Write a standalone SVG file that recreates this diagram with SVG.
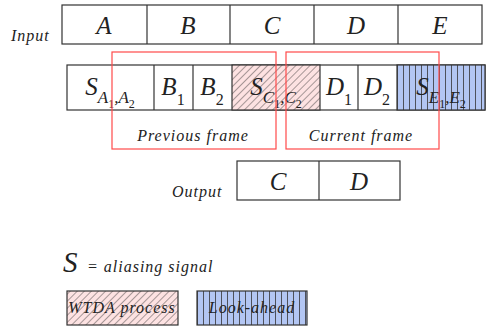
<svg xmlns="http://www.w3.org/2000/svg" width="491" height="329" viewBox="0 0 491 329">
<defs>
<pattern id="diag" patternUnits="userSpaceOnUse" width="5" height="5" patternTransform="rotate(45)">
<rect width="5" height="5" fill="#fde2e2"/>
<line x1="0" y1="0" x2="0" y2="5" stroke="#222" stroke-width="0.8"/>
</pattern>
<pattern id="vert" patternUnits="userSpaceOnUse" width="6" height="10" x="397">
<rect width="6" height="10" fill="#b3c6f3"/>
<line x1="0.5" y1="0" x2="0.5" y2="10" stroke="#333" stroke-width="0.8"/>
</pattern>
<pattern id="vert2" patternUnits="userSpaceOnUse" width="6" height="10" x="197">
<rect width="6" height="10" fill="#b3c6f3"/>
<line x1="0.5" y1="0" x2="0.5" y2="10" stroke="#333" stroke-width="0.8"/>
</pattern>
</defs>
<style>
.box{fill:#fff;stroke:#333;stroke-width:1.2}
.div{stroke:#333;stroke-width:1.2}
.m{font-family:"Liberation Serif",serif;font-style:italic;fill:#222}
.big{font-size:25px;text-anchor:middle}
.n{font-style:normal}
.lbl{font-family:"Liberation Serif",serif;font-style:italic;font-size:16px;fill:#222;letter-spacing:1px}
.frame{fill:none;stroke:#ff4a4a;stroke-width:1.2}
</style>
<rect width="491" height="329" fill="#fff"/>

<g id="input">
<text class="lbl" x="11" y="41">Input</text>
<rect class="box" x="62" y="5" width="420" height="39"/>
<line class="div" x1="147" y1="5" x2="147" y2="44"/>
<line class="div" x1="230" y1="5" x2="230" y2="44"/>
<line class="div" x1="314" y1="5" x2="314" y2="44"/>
<line class="div" x1="398" y1="5" x2="398" y2="44"/>
<text class="m big" x="104" y="34">A</text>
<text class="m big" x="188" y="34">B</text>
<text class="m big" x="272" y="34">C</text>
<text class="m big" x="356" y="34">D</text>
<text class="m big" x="440" y="34">E</text>
</g>

<g id="frames-row">
<rect class="box" x="67" y="65" width="418" height="45"/>
<rect x="232" y="65" width="88" height="45" fill="url(#diag)" stroke="#333" stroke-width="1.2"/>
<rect x="397" y="65" width="88" height="45" fill="url(#vert)" stroke="#333" stroke-width="1.2"/>
<line class="div" x1="154" y1="65" x2="154" y2="110"/>
<line class="div" x1="193" y1="65" x2="193" y2="110"/>
<line class="div" x1="358" y1="65" x2="358" y2="110"/>
<text class="m big" x="110" y="95" font-size="27">S<tspan font-size="17" dy="8">A</tspan><tspan class="n" font-size="12" dy="5">1</tspan><tspan font-size="17" dy="-5">,A</tspan><tspan class="n" font-size="12" dy="5">2</tspan></text>
<text class="m big" x="173" y="95">B<tspan class="n" font-size="16" dy="10">1</tspan></text>
<text class="m big" x="212" y="95">B<tspan class="n" font-size="16" dy="10">2</tspan></text>
<text class="m big" x="276" y="95" font-size="27">S<tspan font-size="17" dy="8">C</tspan><tspan class="n" font-size="12" dy="5">1</tspan><tspan font-size="17" dy="-5">,C</tspan><tspan class="n" font-size="12" dy="5">2</tspan></text>
<text class="m big" x="339" y="95">D<tspan class="n" font-size="16" dy="10">1</tspan></text>
<text class="m big" x="377" y="95">D<tspan class="n" font-size="16" dy="10">2</tspan></text>
<text class="m big" x="441" y="95" font-size="27">S<tspan font-size="17" dy="8">E</tspan><tspan class="n" font-size="12" dy="5">1</tspan><tspan font-size="17" dy="-5">,E</tspan><tspan class="n" font-size="12" dy="5">2</tspan></text>
</g>

<g id="previous-frame">
<rect class="frame" x="112" y="52" width="164" height="97"/>
<text class="lbl" x="193" y="141" text-anchor="middle">Previous frame</text>
</g>

<g id="current-frame">
<rect class="frame" x="286" y="52" width="153" height="97"/>
<text class="lbl" x="361" y="141" text-anchor="middle">Current frame</text>
</g>

<g id="output">
<text class="lbl" x="172" y="197">Output</text>
<rect class="box" x="237" y="161" width="163" height="39"/>
<line class="div" x1="319" y1="161" x2="319" y2="200"/>
<text class="m big" x="278" y="190">C</text>
<text class="m big" x="359" y="190">D</text>
</g>

<g id="legend-s">
<text class="m" x="63" y="272" font-size="29">S</text>
<text class="lbl" x="87" y="272">= aliasing signal</text>
</g>

<g id="legend-wtda">
<rect x="67" y="291" width="111" height="34" fill="url(#diag)" stroke="#333" stroke-width="1.2"/>
<text class="lbl" x="122" y="313" text-anchor="middle" letter-spacing="0">WTDA process</text>
</g>

<g id="legend-lookahead">
<rect x="197" y="291" width="110" height="34" fill="url(#vert2)" stroke="#333" stroke-width="1.2"/>
<text class="lbl" x="252" y="313" text-anchor="middle" letter-spacing="0">Look-ahead</text>
</g>
</svg>
